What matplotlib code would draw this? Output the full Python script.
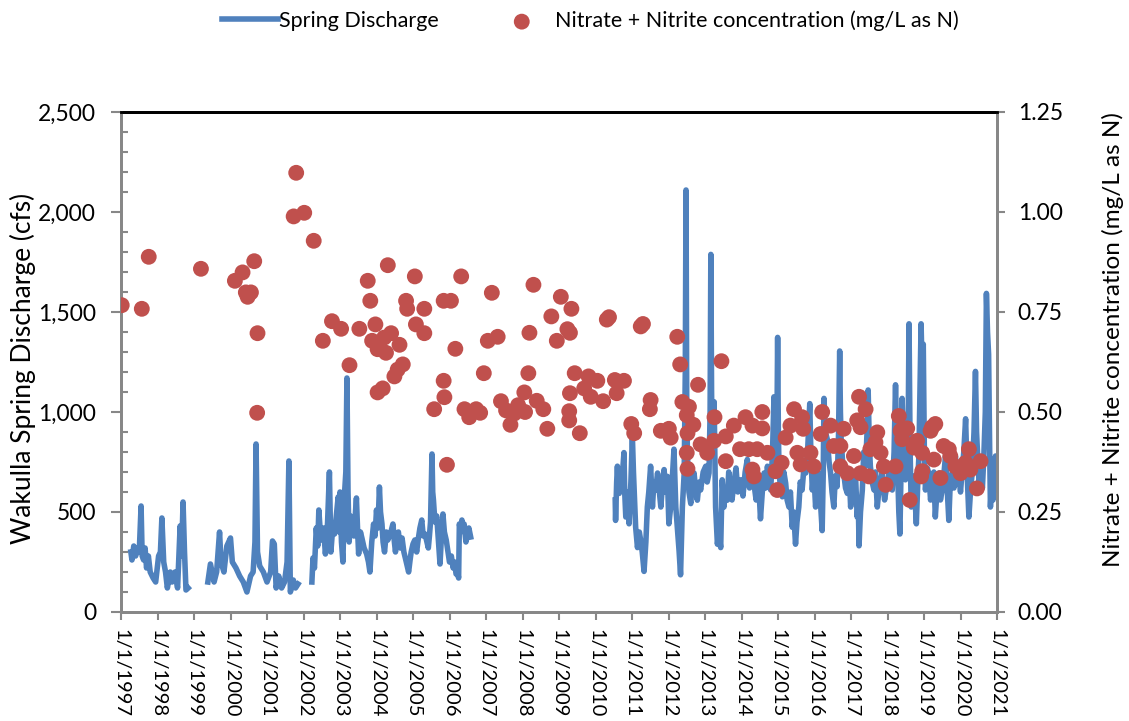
import numpy as np
import matplotlib.pyplot as plt

# -----------------------------
# Spring discharge (cfs): (decimal year, cfs) per continuous stretch of record
# -----------------------------
discharge_9798 = [
    (1997.27, 300), (1997.30, 260), (1997.35, 330), (1997.40, 280), (1997.45, 320),
    (1997.50, 300), (1997.55, 530), (1997.58, 280), (1997.62, 260), (1997.66, 320),
    (1997.70, 220), (1997.75, 280), (1997.80, 200), (1997.88, 170), (1997.95, 150),
    (1998.03, 280), (1998.08, 300), (1998.12, 470), (1998.17, 250), (1998.22, 200),
    (1998.27, 120), (1998.35, 200), (1998.40, 150), (1998.48, 200), (1998.55, 120),
    (1998.62, 430), (1998.66, 280), (1998.70, 550), (1998.74, 300), (1998.78, 110),
    (1998.84, 120),
]
discharge_9901 = [
    (1999.38, 150), (1999.45, 240), (1999.55, 150), (1999.62, 200), (1999.70, 400),
    (1999.74, 250), (1999.82, 200), (1999.90, 330), (2000.00, 370), (2000.05, 250),
    (2000.15, 220), (2000.25, 180), (2000.35, 150), (2000.45, 100), (2000.55, 180),
    (2000.62, 200), (2000.67, 350), (2000.70, 840), (2000.74, 300), (2000.80, 230),
    (2000.90, 200), (2001.00, 150), (2001.10, 200), (2001.15, 355), (2001.20, 340),
    (2001.25, 120), (2001.32, 180), (2001.40, 120), (2001.48, 150), (2001.55, 250),
    (2001.60, 755), (2001.64, 100), (2001.72, 160), (2001.78, 120), (2001.85, 140),
]
discharge_0206 = [
    (2002.23, 150), (2002.26, 270), (2002.30, 220), (2002.35, 420), (2002.39, 330),
    (2002.42, 510), (2002.46, 400), (2002.50, 360), (2002.55, 420), (2002.60, 290),
    (2002.63, 350), (2002.66, 450), (2002.71, 700), (2002.75, 300), (2002.80, 420),
    (2002.85, 390), (2002.90, 480), (2002.95, 575), (2002.98, 400), (2003.00, 600),
    (2003.04, 350), (2003.08, 250), (2003.12, 580), (2003.16, 700), (2003.19, 1170),
    (2003.22, 600), (2003.25, 350), (2003.29, 480), (2003.33, 440), (2003.38, 380),
    (2003.45, 570), (2003.48, 420), (2003.51, 290), (2003.56, 400), (2003.60, 370),
    (2003.66, 320), (2003.73, 290), (2003.78, 250), (2003.82, 200), (2003.87, 350),
    (2003.92, 440), (2003.96, 380), (2004.00, 510), (2004.04, 420), (2004.08, 625),
    (2004.11, 500), (2004.15, 440), (2004.18, 350), (2004.22, 300), (2004.27, 400),
    (2004.31, 360), (2004.38, 390), (2004.45, 440), (2004.49, 350), (2004.52, 300),
    (2004.56, 380), (2004.60, 400), (2004.65, 320), (2004.70, 370), (2004.75, 300),
    (2004.79, 270), (2004.84, 230), (2004.88, 200), (2004.92, 260), (2004.95, 300),
    (2005.00, 340), (2005.05, 360), (2005.10, 300), (2005.14, 360), (2005.19, 420),
    (2005.24, 460), (2005.28, 380), (2005.33, 390), (2005.38, 350), (2005.42, 320),
    (2005.45, 380), (2005.48, 450), (2005.52, 790), (2005.54, 600), (2005.56, 560),
    (2005.60, 450), (2005.65, 480), (2005.70, 350), (2005.74, 240), (2005.78, 380),
    (2005.82, 490), (2005.86, 400), (2005.91, 360), (2005.96, 300), (2006.00, 250),
    (2006.05, 280), (2006.10, 220), (2006.14, 250), (2006.18, 190), (2006.22, 200),
    (2006.25, 170), (2006.27, 440), (2006.31, 400), (2006.34, 460), (2006.37, 420),
    (2006.40, 440), (2006.45, 350), (2006.49, 390), (2006.53, 420), (2006.58, 375),
]
discharge_1021 = [
    (2010.54, 560), (2010.55, 458), (2010.58, 650), (2010.60, 729), (2010.63, 600),
    (2010.65, 593), (2010.70, 650), (2010.74, 695), (2010.78, 797), (2010.80, 600),
    (2010.83, 475), (2010.88, 600), (2010.92, 441), (2010.97, 650), (2011.01, 881),
    (2011.04, 700), (2011.06, 610), (2011.10, 424), (2011.15, 322), (2011.20, 400),
    (2011.24, 356), (2011.28, 300), (2011.33, 203), (2011.38, 350), (2011.42, 525),
    (2011.46, 600), (2011.51, 729), (2011.56, 525), (2011.60, 650), (2011.65, 610),
    (2011.70, 695), (2011.75, 600), (2011.79, 525), (2011.84, 650), (2011.88, 712),
    (2011.92, 600), (2011.97, 678), (2012.01, 441), (2012.06, 525), (2012.10, 650),
    (2012.15, 814), (2012.20, 525), (2012.25, 400), (2012.29, 305), (2012.33, 186),
    (2012.38, 525), (2012.43, 695), (2012.46, 1200), (2012.48, 2110), (2012.50, 1000),
    (2012.52, 780), (2012.56, 600), (2012.61, 542), (2012.65, 650), (2012.70, 695),
    (2012.75, 600), (2012.79, 559), (2012.84, 650), (2012.88, 610), (2012.95, 700),
    (2013.02, 729), (2013.06, 650), (2013.11, 695), (2013.14, 1000), (2013.16, 1788),
    (2013.18, 1100), (2013.20, 780), (2013.25, 1051), (2013.29, 525), (2013.34, 339),
    (2013.38, 400), (2013.43, 322), (2013.47, 661), (2013.52, 525), (2013.56, 620),
    (2013.61, 559), (2013.65, 700), (2013.70, 610), (2013.74, 560), (2013.79, 644),
    (2013.85, 720), (2013.90, 600), (2013.98, 661), (2014.04, 580), (2014.10, 700),
    (2014.16, 763), (2014.22, 620), (2014.28, 700), (2014.34, 644), (2014.40, 560),
    (2014.45, 680), (2014.48, 610), (2014.52, 466), (2014.57, 600), (2014.62, 695),
    (2014.66, 620), (2014.71, 729), (2014.76, 650), (2014.80, 610), (2014.85, 800),
    (2014.89, 1076), (2014.92, 800), (2014.94, 729), (2014.97, 900), (2014.99, 1373),
    (2015.01, 900), (2015.03, 695), (2015.07, 620), (2015.12, 576), (2015.16, 700),
    (2015.21, 644), (2015.25, 560), (2015.30, 525), (2015.34, 600), (2015.39, 424),
    (2015.43, 500), (2015.48, 339), (2015.52, 450), (2015.57, 525), (2015.61, 650),
    (2015.66, 610), (2015.71, 720), (2015.76, 695), (2015.81, 800), (2015.87, 1042),
    (2015.90, 800), (2015.94, 610), (2015.98, 700), (2016.03, 525), (2016.07, 640),
    (2016.12, 695), (2016.16, 560), (2016.21, 407), (2016.24, 700), (2016.26, 1068),
    (2016.30, 900), (2016.35, 864), (2016.40, 750), (2016.44, 695), (2016.48, 600),
    (2016.53, 525), (2016.57, 680), (2016.62, 627), (2016.66, 900), (2016.69, 1305),
    (2016.71, 1000), (2016.73, 864), (2016.77, 750), (2016.80, 695), (2016.85, 620),
    (2016.90, 593), (2016.95, 700), (2016.99, 525), (2017.04, 650), (2017.08, 610),
    (2017.12, 700), (2017.17, 475), (2017.20, 550), (2017.22, 331), (2017.26, 500),
    (2017.31, 610), (2017.35, 800), (2017.40, 729), (2017.44, 900), (2017.47, 1110),
    (2017.50, 850), (2017.53, 729), (2017.58, 650), (2017.63, 610), (2017.67, 700),
    (2017.72, 525), (2017.78, 640), (2017.85, 695), (2017.92, 560), (2017.99, 644),
    (2018.06, 720), (2018.13, 610), (2018.18, 800), (2018.22, 1136), (2018.25, 850),
    (2018.28, 695), (2018.31, 500), (2018.34, 390), (2018.37, 700), (2018.40, 1068),
    (2018.44, 800), (2018.49, 661), (2018.54, 780), (2018.57, 1000), (2018.59, 1441),
    (2018.62, 800), (2018.65, 525), (2018.69, 680), (2018.72, 610), (2018.76, 550),
    (2018.79, 441), (2018.83, 650), (2018.86, 780), (2018.89, 1100), (2018.92, 1441),
    (2018.95, 1200), (2018.98, 1339), (2019.01, 800), (2019.04, 610), (2019.09, 720),
    (2019.13, 695), (2019.18, 560), (2019.22, 644), (2019.27, 700), (2019.31, 475),
    (2019.36, 620), (2019.41, 695), (2019.45, 560), (2019.50, 610), (2019.55, 700),
    (2019.59, 780), (2019.64, 600), (2019.68, 458), (2019.72, 650), (2019.77, 695),
    (2019.82, 620), (2019.86, 780), (2019.90, 640), (2019.95, 695), (2020.00, 600),
    (2020.04, 695), (2020.09, 800), (2020.14, 966), (2020.18, 700), (2020.23, 475),
    (2020.28, 620), (2020.32, 695), (2020.37, 900), (2020.41, 1203), (2020.44, 900),
    (2020.47, 780), (2020.51, 640), (2020.55, 695), (2020.60, 620), (2020.64, 780),
    (2020.68, 1000), (2020.71, 1593), (2020.74, 1400), (2020.77, 1288), (2020.80, 800),
    (2020.82, 525), (2020.84, 600), (2020.86, 695), (2020.89, 560), (2020.91, 627),
    (2020.94, 700), (2020.96, 780), (2021.00, 610),
]

# -----------------------------
# Nitrate + nitrite samples (mg/L as N)
# -----------------------------
n_year = [
    1997.02, 1997.57, 1997.76, 1999.19, 2000.12, 2000.33, 2000.42, 2000.56, 2000.47, 2000.65,
    2000.74, 2000.73, 2001.73, 2001.80, 2002.02, 2002.28, 2002.53, 2002.78, 2003.03, 2003.26,
    2003.53, 2003.76, 2003.83, 2003.97, 2003.88, 2004.03, 2004.03, 2004.17, 2004.21, 2004.40,
    2004.26, 2004.31, 2004.63, 2004.49, 2004.58, 2004.72, 2004.81, 2004.84, 2005.05, 2005.08,
    2005.31, 2005.31, 2005.58, 2005.84, 2006.04, 2005.84, 2005.86, 2005.93, 2006.16, 2006.32,
    2006.41, 2006.54, 2006.73, 2006.84, 2006.94, 2007.05, 2007.32, 2007.16, 2007.41, 2007.55,
    2007.67,
    2008.30, 2009.05, 2008.79, 2009.34, 2008.19, 2009.30, 2009.23, 2008.94, 2010.31, 2010.37,
    2011.24, 2011.30, 2012.24, 2012.32, 2008.16, 2009.43, 2009.81, 2010.05, 2010.53, 2010.78,
    2008.05, 2009.30, 2009.69, 2009.87, 2010.21, 2010.58, 2007.88, 2008.07, 2007.77, 2008.39,
    2008.57, 2009.28, 2009.28, 2008.68, 2009.57, 2011.51, 2011.49, 2010.98, 2011.06, 2011.79,
    2012.01, 2012.06, 2012.81, 2013.45, 2012.38, 2012.56, 2012.50, 2012.68, 2012.52, 2012.50,
    2012.52, 2012.88, 2013.06, 2013.25, 2013.26, 2013.57, 2013.57, 2013.79, 2014.11, 2014.30,
    2014.57, 2014.57, 2013.96, 2014.20, 2014.43, 2014.30, 2014.34, 2014.71, 2014.93, 2014.98,
    2015.10, 2015.21, 2015.44, 2015.34, 2015.66, 2015.69, 2015.53, 2015.62, 2015.89, 2015.98,
    2016.21, 2016.17, 2016.44, 2016.53, 2016.71, 2016.80, 2016.71, 2016.90, 2017.08, 2017.26,
    2017.22, 2017.40, 2017.17, 2017.26, 2017.49, 2017.53, 2017.72, 2017.81, 2017.67, 2017.90,
    2017.95, 2018.22, 2018.31, 2018.36, 2018.54, 2018.40, 2018.61, 2018.81, 2018.72, 2018.95,
    2018.95, 2018.92, 2019.22, 2019.31, 2019.18, 2019.27, 2019.54, 2019.68, 2019.45, 2019.72,
    2019.86, 2020.00, 2020.14, 2020.23, 2020.27, 2020.45, 2020.55,
]
n_conc = [
    0.767, 0.758, 0.888, 0.858, 0.828, 0.849, 0.799, 0.799, 0.788, 0.877,
    0.697, 0.498, 0.989, 1.098, 0.998, 0.928, 0.678, 0.727, 0.708, 0.617,
    0.708, 0.828, 0.778, 0.719, 0.678, 0.657, 0.549, 0.559, 0.686, 0.697,
    0.648, 0.867, 0.668, 0.589, 0.606, 0.619, 0.778, 0.758, 0.839, 0.719,
    0.697, 0.758, 0.507, 0.778, 0.778, 0.578, 0.537, 0.368, 0.658, 0.839,
    0.507, 0.487, 0.507, 0.498, 0.597, 0.678, 0.688, 0.798, 0.527, 0.504,
    0.468,
    0.818, 0.788, 0.739, 0.758, 0.698, 0.698, 0.707, 0.678, 0.731, 0.737,
    0.714, 0.720, 0.688, 0.619, 0.597, 0.597, 0.589, 0.578, 0.580, 0.578,
    0.549, 0.547, 0.559, 0.538, 0.527, 0.547, 0.517, 0.500, 0.496, 0.528,
    0.507, 0.502, 0.479, 0.458, 0.447, 0.530, 0.507, 0.470, 0.447, 0.453,
    0.458, 0.436, 0.568, 0.627, 0.525, 0.513, 0.492, 0.468, 0.447, 0.398,
    0.358, 0.419, 0.398, 0.428, 0.487, 0.377, 0.439, 0.466, 0.487, 0.466,
    0.500, 0.459, 0.407, 0.407, 0.407, 0.356, 0.339, 0.398, 0.352, 0.305,
    0.373, 0.436, 0.507, 0.466, 0.487, 0.458, 0.398, 0.369, 0.398, 0.364,
    0.500, 0.445, 0.466, 0.415, 0.415, 0.458, 0.364, 0.347, 0.390, 0.347,
    0.538, 0.507, 0.479, 0.462, 0.339, 0.407, 0.449, 0.398, 0.424, 0.364,
    0.318, 0.364, 0.490, 0.453, 0.459, 0.432, 0.280, 0.428, 0.411, 0.398,
    0.352, 0.339, 0.462, 0.470, 0.453, 0.381, 0.415, 0.407, 0.335, 0.390,
    0.364, 0.347, 0.373, 0.407, 0.356, 0.309, 0.377,
]

years = list(range(1997, 2022))
tick_labels = [f"1/1/{y}" for y in years]

# join the stretches with NaN so the line breaks over the gaps
q_year, q_cfs = [], []
for seg in (discharge_9798, discharge_9901, discharge_0206, discharge_1021):
    q_year += [p[0] for p in seg] + [np.nan]
    q_cfs += [p[1] for p in seg] + [np.nan]

plt.rcParams['font.family'] = ['Lato', 'DejaVu Sans']

fig = plt.figure(figsize=(11.29, 7.21), dpi=100)
ax = fig.add_axes([121 / 1129, 1 - 612 / 721, 876 / 1129, 500 / 721])
ax2 = ax.twinx()

line, = ax.plot(q_year, q_cfs, color='#4F81BD', lw=4, solid_joinstyle='round',
                label='Spring Discharge')
dots = ax2.scatter(n_year, n_conc, s=130, color='#C0504D', edgecolors='none', zorder=3,
                   label='Nitrate + Nitrite concentration (mg/L as N)')

ax.set_xlim(1997, 2021)
ax.set_ylim(0, 2500)
ax2.set_ylim(0, 1.25)

ax.set_xticks(years)
ax.set_xticklabels(tick_labels, rotation=270, fontsize=14.5)
ax.set_yticks(range(0, 2501, 500))
ax.set_yticklabels([f"{v:,}" for v in range(0, 2501, 500)], fontsize=16.5)
ax.set_yticks(range(0, 2501, 100), minor=True)
ax2.set_yticks(np.arange(0, 1.26, 0.25))
ax2.set_yticklabels([f"{v:.2f}" for v in np.arange(0, 1.26, 0.25)], fontsize=16.5)

gray = '#878787'
ax.tick_params(axis='x', which='major', direction='out', length=6, width=1.5, color=gray, pad=6)
ax.tick_params(axis='y', which='major', direction='out', length=7, width=1.5, color=gray, pad=11)
ax.tick_params(axis='y', which='minor', direction='in', length=5, width=1.5, color=gray)
ax2.tick_params(axis='y', direction='out', length=6, width=1.5, color=gray, pad=9)

for a in (ax, ax2):
    for side in ('left', 'right', 'bottom'):
        a.spines[side].set_color(gray)
        a.spines[side].set_linewidth(2)
    a.spines['top'].set_color('black')
    a.spines['top'].set_linewidth(2)

ax.set_ylabel('Wakulla Spring Discharge (cfs)', fontsize=19)
ax.yaxis.set_label_coords((23 - 121) / 876, (612 - 368) / 500)
ax.yaxis.label.set_va('center')
ax2.set_ylabel('Nitrate + Nitrite concentration (mg/L as N)', fontsize=17.5)
ax2.yaxis.set_label_coords((1113 - 121) / 876, (612 - 340) / 500)
ax2.yaxis.label.set_va('center')

# two legend entries, laid out like the original header
fig.legend(handles=[line], loc='center left', bbox_to_anchor=(222 / 1129, 1 - 21 / 721),
           frameon=False, fontsize=15.5, handlelength=2.6, handletextpad=0.05,
           borderpad=0, borderaxespad=0)
fig.legend(handles=[dots], loc='center left', bbox_to_anchor=(511 / 1129, 1 - 21 / 721),
           frameon=False, fontsize=15.5, handlelength=1.0, handletextpad=1.05,
           borderpad=0, borderaxespad=0)

fig.savefig('out.png', dpi=100)
